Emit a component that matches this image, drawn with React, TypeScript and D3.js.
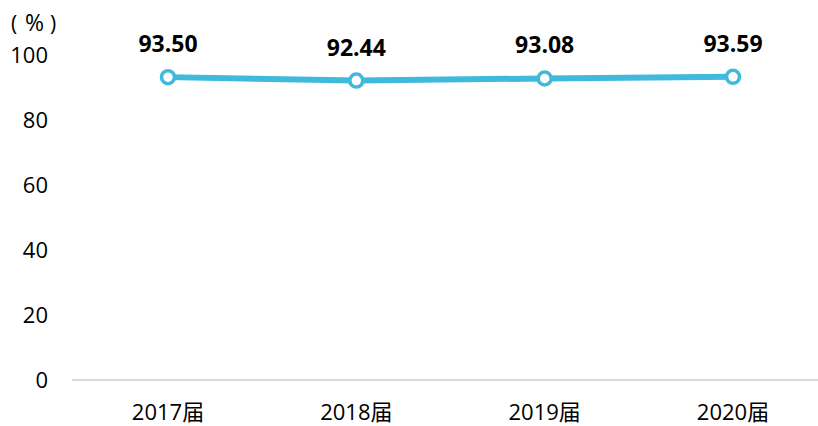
import React, { useEffect, useRef } from "react";
import * as d3 from "d3";

const categories = ["2017届", "2018届", "2019届", "2020届"];
const rates = [93.5, 92.44, 93.08, 93.59];
const yTicks = [0, 20, 40, 60, 80, 100];

const WIDTH = 818;
const HEIGHT = 426;
const LINE_COLOR = "#3fbadd";
const FONT = "'Open Sans', 'Noto Sans CJK SC', sans-serif";

const App: React.FC = () => {
  const svgRef = useRef<SVGSVGElement>(null);

  useEffect(() => {
    if (!svgRef.current) return;
    const svg = d3.select(svgRef.current);
    svg.selectAll("*").remove();

    const x = d3.scalePoint<string>().domain(categories).range([168, 733]);
    const y = d3.scaleLinear().domain([0, 100]).range([381, 56]);

    // Y tick labels (no axis line)
    svg
      .append("g")
      .selectAll("text")
      .data(yTicks)
      .enter()
      .append("text")
      .attr("x", 48)
      .attr("y", (d) => y(d) - 1)
      .attr("dy", "0.36em")
      .attr("text-anchor", "end")
      .attr("font-family", FONT)
      .attr("font-size", "22px")
      .attr("fill", "#000")
      .text((d) => d);

    // unit label, full-width brackets spaced out like the original
    const unit = svg
      .append("text")
      .attr("y", 23)
      .attr("dy", "0.36em")
      .attr("font-family", FONT)
      .attr("font-size", "23px")
      .attr("fill", "#000");
    unit.append("tspan").attr("x", 11).attr("font-size", "21px").text("(");
    unit.append("tspan").attr("x", 25).text("%");
    unit.append("tspan").attr("x", 50).attr("font-size", "21px").text(")");

    // X axis baseline
    svg
      .append("line")
      .attr("x1", 72)
      .attr("x2", WIDTH)
      .attr("y1", y(0) - 1)
      .attr("y2", y(0) - 1)
      .attr("stroke", "#d9d9d9")
      .attr("stroke-width", 2);

    // X category labels
    svg
      .append("g")
      .selectAll("text")
      .data(categories)
      .enter()
      .append("text")
      .attr("x", (d) => x(d) || 0)
      .attr("y", 420)
      .attr("text-anchor", "middle")
      .attr("font-family", FONT)
      .attr("font-size", "22px")
      .attr("fill", "#000")
      .text((d) => d);

    const points = categories.map((c, i) => ({ c, v: rates[i] }));

    const line = d3
      .line<{ c: string; v: number }>()
      .x((d) => x(d.c) || 0)
      .y((d) => y(d.v));

    svg
      .append("path")
      .datum(points)
      .attr("d", line)
      .attr("fill", "none")
      .attr("stroke", LINE_COLOR)
      .attr("stroke-width", 6)
      .attr("stroke-linejoin", "round");

    svg
      .append("g")
      .selectAll("circle")
      .data(points)
      .enter()
      .append("circle")
      .attr("cx", (d) => x(d.c) || 0)
      .attr("cy", (d) => y(d.v))
      .attr("r", 6.5)
      .attr("fill", "#fff")
      .attr("stroke", LINE_COLOR)
      .attr("stroke-width", 3.5);

    // value labels
    svg
      .append("g")
      .selectAll("text")
      .data(points)
      .enter()
      .append("text")
      .attr("x", (d) => x(d.c) || 0)
      .attr("y", (d) => y(d.v) - 25)
      .attr("text-anchor", "middle")
      .attr("font-family", FONT)
      .attr("font-size", "23px")
      .attr("font-weight", "bold")
      .attr("fill", "#000")
      .text((d) => d.v.toFixed(2));
  }, []);

  return (
    <svg
      ref={svgRef}
      width={WIDTH}
      height={HEIGHT}
      style={{ position: "absolute", left: 0, top: 0, background: "#fff" }}
    />
  );
};

export default App;
